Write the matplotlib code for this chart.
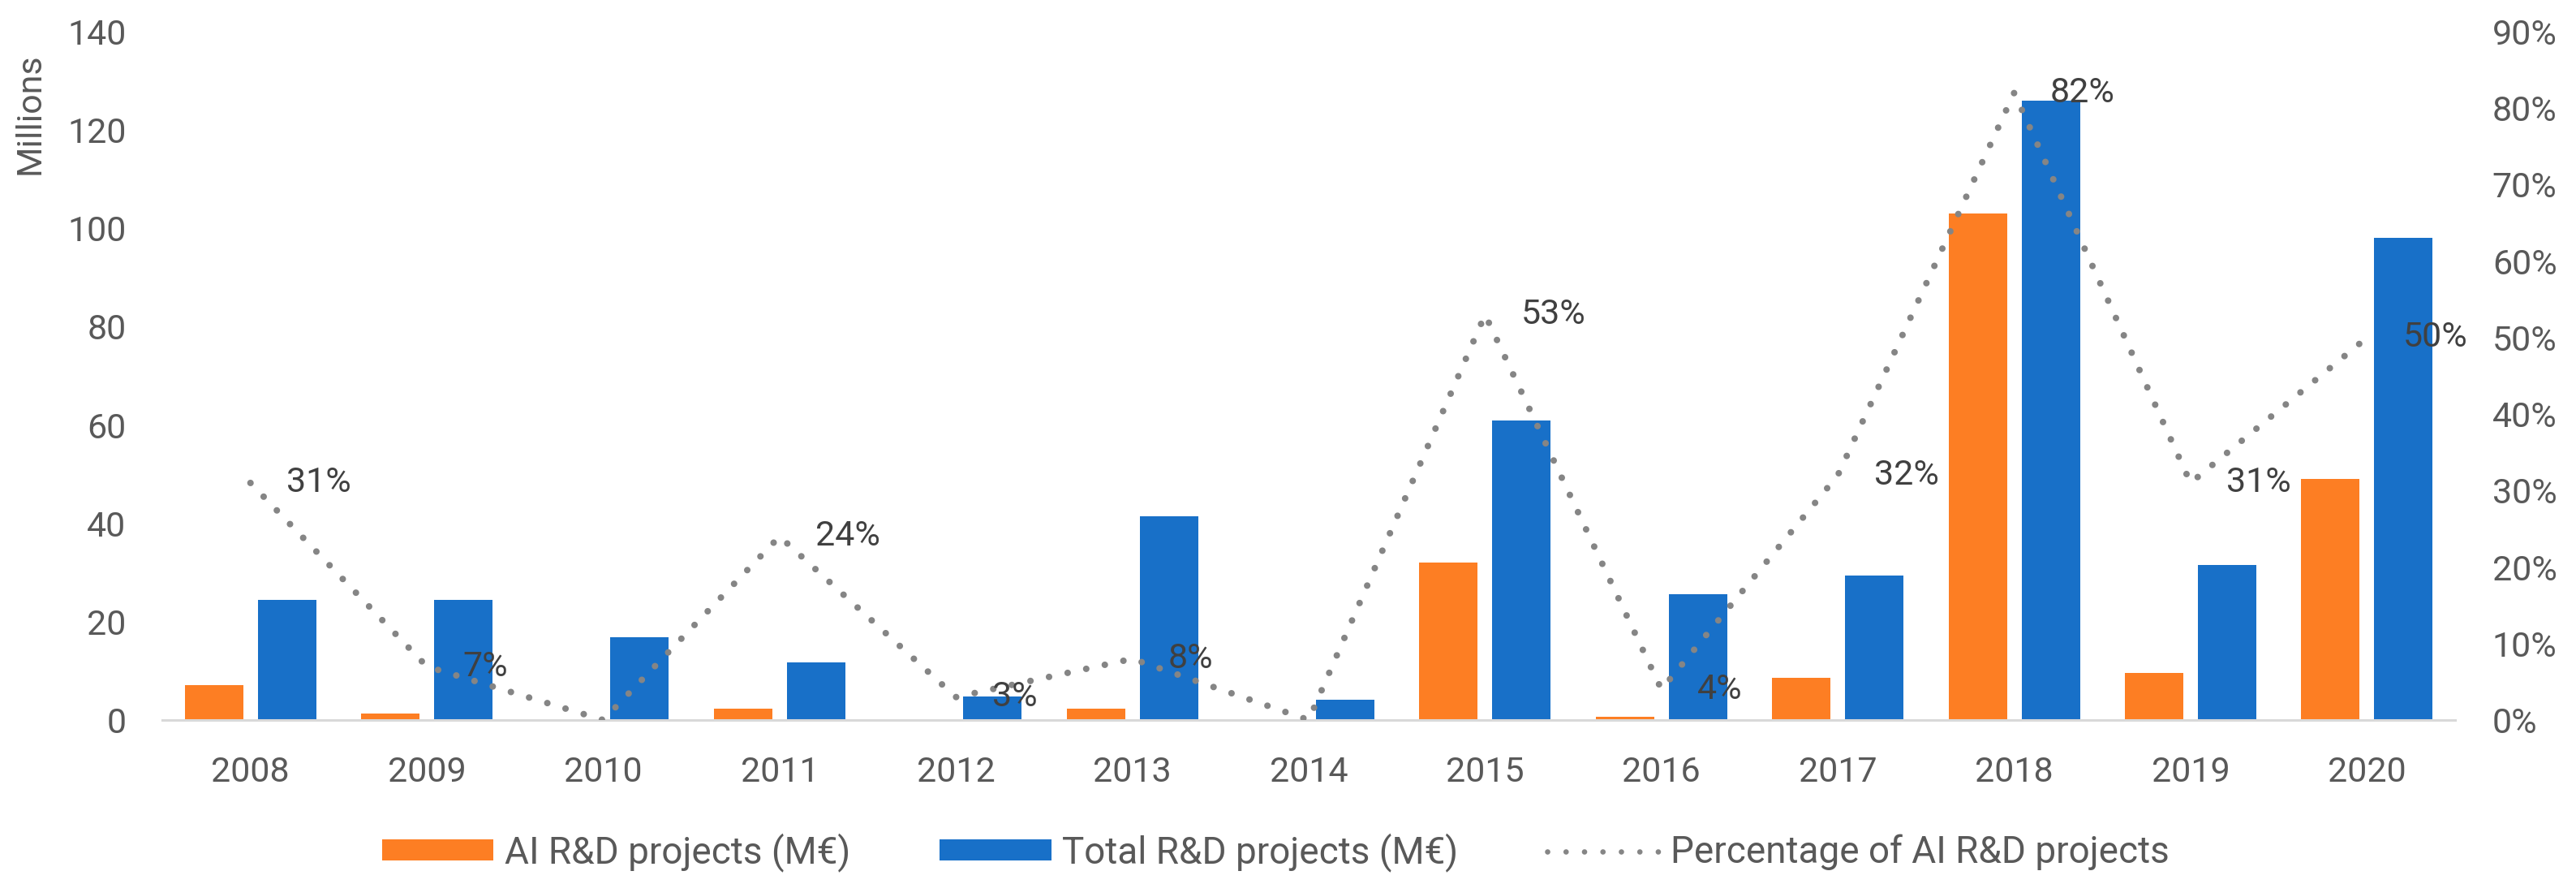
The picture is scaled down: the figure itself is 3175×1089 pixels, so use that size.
import matplotlib
matplotlib.use("Agg")
import matplotlib.pyplot as plt
from matplotlib.patches import Patch
from matplotlib.lines import Line2D
from matplotlib.ticker import FuncFormatter, MultipleLocator
import numpy as np

plt.rcParams['font.family'] = ['Roboto', 'DejaVu Sans']

# data
years = ["2008", "2009", "2010", "2011", "2012", "2013", "2014",
         "2015", "2016", "2017", "2018", "2019", "2020"]
ai_projects = [7.1, 1.3, 0.0, 2.3, 0.15, 2.3, 0.0, 32.0, 0.7, 8.6, 103.0, 9.5, 49.0]
total_projects = [24.5, 24.4, 16.8, 11.7, 4.8, 41.4, 4.2, 60.9, 25.6, 29.4, 126.0, 31.5, 98.0]
ai_share_pct = [31, 7, 0, 24, 3, 8, 0, 53, 4, 32, 82, 31, 50]

ORANGE = '#FD7E23'
BLUE = '#1870C8'
GREY_DOTS = '#858585'
TEXT = '#595959'
FS = 31
LEGEND_FS = 33

W, H = 3175, 1089
fig = plt.figure(figsize=(W / 100, H / 100), dpi=100)
ax = fig.add_axes([200 / W, 1 - 887 / H, (3026 - 200) / W, (887 - 39) / H])

x = np.arange(len(years))
bw = 0.331
off = 0.207
ax.bar(x - off, ai_projects, width=bw, color=ORANGE, zorder=2)
ax.bar(x + off, total_projects, width=bw, color=BLUE, zorder=2)

ax.set_xlim(-0.5, len(years) - 0.5)
ax.set_ylim(0, 140)
ax.yaxis.set_major_locator(MultipleLocator(20))
ax.set_xticks(x)
ax.set_xticklabels(years)

for side in ['top', 'left', 'right']:
    ax.spines[side].set_visible(False)
ax.spines['bottom'].set_color('#d9d9d9')
ax.spines['bottom'].set_linewidth(2.2)
ax.tick_params(axis='both', length=0, labelsize=FS, colors=TEXT)
ax.tick_params(axis='y', pad=32)
ax.tick_params(axis='x', pad=32)

# secondary axis for the share line
ax2 = ax.twinx()
share = [p / 100 for p in ai_share_pct]
ax2.plot(x, share, color=GREY_DOTS, linewidth=5.8,
         linestyle=(0, (0.01, 2.9)), dash_capstyle='round', zorder=3)
ax2.set_ylim(0, 0.9)
ax2.yaxis.set_major_locator(MultipleLocator(0.1))
ax2.yaxis.set_major_formatter(FuncFormatter(lambda v, _: f"{v:.0%}"))
for side in ['top', 'left', 'right', 'bottom']:
    ax2.spines[side].set_visible(False)
ax2.tick_params(axis='y', length=0, labelsize=FS, colors=TEXT, pad=33)

for xi, p in zip(x, ai_share_pct):
    if p > 0:
        ax2.annotate(f"{p}%", (xi, p / 100), xytext=(32, 0),
                     textcoords='offset points', ha='left', va='center',
                     fontsize=FS, color='#404040', zorder=4)

fig.text(37 / W, 1 - 140 / H, "Millions", rotation=90, ha='center',
         va='center', fontsize=FS, color=TEXT)

handles = [
    Patch(facecolor=ORANGE, edgecolor='none'),
    Patch(facecolor=BLUE, edgecolor='none'),
    Line2D([0], [0], color=GREY_DOTS, linewidth=4.8,
           linestyle=(0, (0.01, 3.4)), dash_capstyle='round'),
]
labels = ["AI R&D projects (M€)", "Total R&D projects (M€)",
          "Percentage of AI R&D projects"]
fig.legend(handles, labels, loc='center', bbox_to_anchor=(1572 / W, 1 - 1050 / H),
           ncol=3, frameon=False, fontsize=LEGEND_FS, labelcolor=TEXT,
           handlelength=3.0, handleheight=0.5, handletextpad=0.3,
           columnspacing=2.4)

fig.savefig("out.png", dpi=100)
